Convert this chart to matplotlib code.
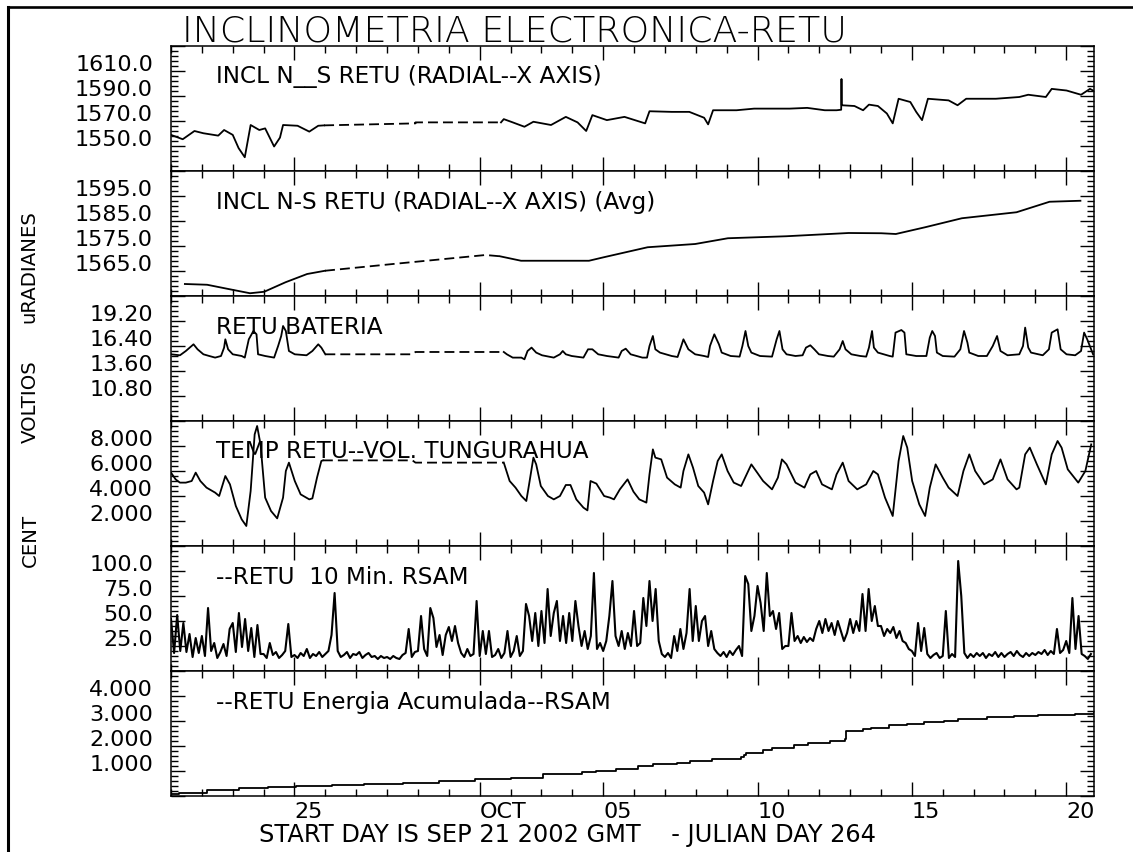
# %%

# RETU STATION - INCLINOMETRY, BATTERY, TEMPERATURE AND RSAM (SEP 21 - OCT 20 2002)

import numpy as np
import matplotlib

matplotlib.use("Agg")
import matplotlib.pyplot as plt
from matplotlib.lines import Line2D
from matplotlib import font_manager

# %%

# time is in days after 2002-09-21 00:00 GMT

# tilt N-S (radial), raw
incl_t1 = [0, 0.38, 0.76, 1.05, 1.53, 1.72, 2.0, 2.19, 2.39, 2.58, 2.86, 3.05,
           3.34, 3.53, 3.63, 4.1, 4.48, 4.77, 4.96]
incl_v1 = [1558.9, 1555.4, 1562.0, 1560.2, 1558.3, 1562.8, 1558.9, 1548.3, 1541.0,
           1566.8, 1562.8, 1564.1, 1549.6, 1556.7, 1566.8, 1566.2, 1561.5, 1566.2, 1566.5]
incl_gap_t = [4.96, 7.92, 7.92, 10.69]
incl_gap_v = [1566.5, 1568.1, 1568.9, 1568.9]
incl_t2 = [10.69, 10.78, 11.07, 11.45, 11.74, 12.31, 12.79, 13.17, 13.45, 13.65,
           14.12, 14.69, 15.36, 15.5, 16.22, 16.79, 17.27, 17.4, 17.56, 18.32,
           18.89, 19.66, 20.04, 20.61, 21.18, 21.56, 21.71, 21.72, 21.73, 22.14,
           22.42, 22.61, 22.9, 23.19, 23.38, 23.57, 23.95, 24.14, 24.33, 24.52,
           25.19, 25.48, 25.76, 26.72, 27.48, 27.77, 28.34, 28.53, 29.01, 29.48,
           29.77, 29.9]
incl_v2 = [1568.9, 1571.5, 1568.9, 1565.4, 1569.4, 1566.8, 1573.3, 1568.9, 1562.0, 1574.7,
           1570.7, 1573.3, 1568.1, 1577.8, 1577.3, 1577.3, 1572.6, 1567.3, 1578.6, 1578.6,
           1579.9, 1579.9, 1579.9, 1580.5, 1578.6, 1578.6, 1579.0, 1603.6, 1582.6, 1582.0,
           1578.6, 1583.1, 1582.0, 1576.0, 1568.1, 1587.8, 1585.2, 1577.3, 1570.7, 1587.8,
           1586.5, 1582.6, 1587.8, 1587.8, 1589.2, 1591.0, 1589.2, 1595.7, 1594.4, 1591.0,
           1595.7, 1594.0]

# tilt N-S (radial), averaged
avg_t1 = [0.45, 1.17, 1.86, 2.56, 3.02, 3.71, 4.41, 4.99]
avg_v1 = [1559.8, 1559.5, 1557.8, 1556.1, 1556.7, 1560.5, 1563.8, 1565.1]
avg_gap_t = [4.99, 7.19, 10.19, 10.65]
avg_gap_v = [1565.1, 1567.8, 1571.4, 1570.9]
avg_t2 = [10.65, 11.34, 12.6, 13.54, 14.02, 15.44, 16.98, 18.04, 19.93, 21.95,
          23.01, 23.48, 24.43, 25.62, 27.39, 28.46, 29.46]
avg_v2 = [1570.9, 1569.1, 1569.1, 1569.1, 1570.5, 1574.5, 1575.8, 1578.1, 1578.9, 1580.2,
          1580.1, 1579.8, 1582.5, 1586.1, 1588.5, 1592.7, 1593.1]

# battery voltage
bat_t1 = [0, 0.29, 0.48, 0.73, 0.86, 1.05, 1.24, 1.43, 1.62, 1.72, 1.76, 1.85, 2.0,
          2.29, 2.39, 2.52, 2.67, 2.77, 2.82, 3.05, 3.34, 3.47, 3.57, 3.63, 3.72,
          3.82, 4.01, 4.39, 4.58, 4.77, 4.87, 5.0]
bat_v1 = [15.47, 15.36, 15.84, 16.59, 16.03, 15.47, 15.28, 15.1, 15.28, 16.22, 17.15,
          16.03, 15.47, 15.28, 15.1, 17.15, 18.08, 17.71, 15.47, 15.28, 15.1, 16.4,
          17.52, 18.64, 18.08, 15.84, 15.47, 15.36, 15.84, 16.59, 16.22, 15.47]
bat_gap_t = [5.0, 7.82, 7.92, 10.78]
bat_gap_v = [15.47, 15.47, 15.73, 15.73]
bat_t2 = [10.78, 10.88, 11.07, 11.35, 11.45, 11.55, 11.68, 11.83, 12.02, 12.4,
          12.6, 12.69, 12.79, 12.98, 13.36, 13.51, 13.65, 13.84, 14.12, 14.5,
          14.6, 14.73, 14.89, 15.27, 15.42, 15.5, 15.61, 15.69, 15.84, 16.22,
          16.41, 16.53, 16.6, 16.76, 16.98, 17.27, 17.4, 17.46, 17.6, 17.75,
          17.84, 18.13, 18.42, 18.51, 18.61, 18.7, 18.8, 19.08, 19.47, 19.62,
          19.71, 19.81, 19.94, 20.23, 20.46, 20.57, 20.71, 20.84, 20.99, 21.28,
          21.47, 21.66, 21.76, 21.85, 22.04, 22.33, 22.52, 22.61, 22.71, 22.77,
          22.9, 23.28, 23.38, 23.47, 23.66, 23.76, 23.82, 24.14, 24.47, 24.58,
          24.66, 24.75, 24.81, 25.0, 25.38, 25.57, 25.69, 25.8, 25.86, 26.15,
          26.43, 26.62, 26.76, 26.87, 27.1, 27.48, 27.6, 27.67, 27.77, 27.86,
          28.24, 28.44, 28.53, 28.72, 28.82, 29.01, 29.29, 29.48, 29.58, 29.68,
          29.87]
bat_v2 = [15.73, 15.47, 15.1, 15.1, 14.91, 15.84, 16.22, 15.66, 15.36, 15.1,
          15.47, 15.84, 15.47, 15.28, 15.1, 16.03, 16.03, 15.47, 15.28, 15.1,
          15.84, 16.1, 15.47, 15.1, 15.1, 16.4, 17.52, 16.03, 15.66, 15.28,
          15.17, 16.4, 17.15, 16.03, 15.47, 15.28, 15.17, 16.4, 17.71, 16.59,
          15.66, 15.28, 15.21, 16.4, 18.08, 16.4, 15.66, 15.28, 15.21, 17.15,
          18.08, 16.03, 15.47, 15.28, 15.36, 16.22, 16.48, 16.03, 15.47, 15.28,
          15.21, 16.03, 16.96, 16.03, 15.47, 15.28, 15.21, 16.22, 18.08, 16.22,
          15.66, 15.28, 15.21, 17.9, 18.19, 17.9, 15.47, 15.28, 15.28, 17.34,
          18.08, 17.52, 15.66, 15.28, 15.21, 16.03, 18.08, 16.78, 15.66, 15.28,
          15.28, 16.4, 17.52, 15.84, 15.36, 15.47, 16.4, 18.46, 16.22, 15.66,
          15.36, 16.03, 17.9, 18.27, 16.03, 15.47, 15.36, 15.84, 17.9, 17.15,
          15.47]

# temperature
temp_t1 = [0, 0.15, 0.29, 0.48, 0.67, 0.8, 0.95, 1.15, 1.43, 1.56, 1.76, 1.91, 2.1,
           2.29, 2.44, 2.58, 2.71, 2.79, 2.9, 3.05, 3.24, 3.44, 3.63, 3.72, 3.82,
           4.01, 4.2, 4.48, 4.58, 4.73, 4.87, 4.92]
temp_v1 = [5.87, 5.33, 5.07, 5.07, 5.2, 5.87, 5.2, 4.67, 4.27, 4.0, 5.6, 4.93, 3.2,
           2.13, 1.6, 4.4, 8.93, 9.6, 8.13, 3.87, 2.8, 2.21, 3.87, 6.0, 6.67, 5.2,
           4.13, 3.73, 3.81, 5.47, 6.8, 6.85]
temp_gap_t = [4.92, 7.82, 7.92, 10.78]
temp_gap_v = [6.85, 6.85, 6.67, 6.67]
temp_t2 = [10.78, 10.97, 11.16, 11.35, 11.51, 11.6, 11.74, 11.83, 11.98, 12.21,
           12.4, 12.6, 12.79, 12.94, 13.13, 13.36, 13.49, 13.59, 13.78, 14.03,
           14.22, 14.35, 14.54, 14.79, 14.98, 15.17, 15.4, 15.5, 15.61, 15.69,
           15.88, 16.07, 16.32, 16.51, 16.6, 16.76, 16.91, 17.08, 17.27, 17.4,
           17.56, 17.71, 17.84, 18.03, 18.23, 18.47, 18.8, 18.99, 19.18, 19.47,
           19.66, 19.79, 19.94, 20.23, 20.52, 20.71, 20.9, 21.09, 21.41, 21.56,
           21.76, 21.95, 22.23, 22.52, 22.75, 22.9, 23.13, 23.38, 23.57, 23.72,
           23.85, 24.01, 24.24, 24.43, 24.58, 24.77, 25.0, 25.19, 25.48, 25.67,
           25.86, 26.05, 26.34, 26.62, 26.87, 27.1, 27.39, 27.48, 27.67, 27.82,
           28.05, 28.34, 28.53, 28.72, 28.85, 29.05, 29.39, 29.62, 29.81]
temp_v2 = [6.67, 5.2, 4.67, 4.0, 3.6, 4.93, 7.07, 6.53, 4.8, 4.0,
           3.73, 4.0, 4.88, 4.88, 3.73, 3.07, 2.85, 5.2, 4.99, 4.0,
           3.87, 3.73, 4.53, 5.33, 4.35, 3.73, 3.47, 5.73, 7.73, 7.07,
           6.93, 5.47, 4.93, 4.67, 6.0, 7.33, 6.27, 4.8, 4.27, 3.33,
           5.2, 6.8, 7.33, 6.0, 5.07, 4.8, 6.53, 5.87, 5.2, 4.53,
           5.47, 6.93, 6.53, 5.07, 4.67, 5.73, 6.0, 4.93, 4.53, 5.73,
           6.67, 5.2, 4.53, 4.93, 6.0, 5.73, 3.87, 2.4, 6.8, 8.8,
           7.87, 5.2, 3.33, 2.4, 4.67, 6.53, 5.47, 4.67, 4.0, 6.0,
           7.33, 6.0, 4.93, 5.33, 6.93, 5.33, 4.53, 4.67, 7.33, 7.87,
           6.53, 4.93, 7.33, 8.4, 7.87, 6.13, 5.07, 6.0, 8.13]

# 10 min RSAM, read every 0.1 day
rsam_dt = 0.1
rsam = [52, 18, 56, 20, 48, 19, 37, 14, 33, 18,
        35, 15, 63, 20, 28, 13, 19, 27, 15, 42,
        48, 19, 58, 24, 52, 20, 43, 14, 46, 17,
        17, 13, 28, 16, 19, 13, 16, 20, 47, 14,
        16, 13, 18, 15, 22, 13, 17, 15, 19, 14,
        17, 20, 36, 78, 20, 14, 16, 19, 13, 17,
        16, 19, 13, 16, 18, 14, 15, 12, 15, 13,
        14, 12, 15, 13, 12, 16, 18, 42, 14, 19,
        20, 55, 22, 15, 63, 53, 24, 36, 16, 36,
        44, 30, 45, 28, 18, 14, 22, 15, 17, 70,
        15, 40, 17, 40, 14, 16, 22, 13, 18, 40,
        14, 20, 35, 15, 20, 67, 55, 30, 58, 25,
        60, 28, 82, 35, 58, 70, 30, 55, 28, 58,
        30, 70, 45, 25, 40, 22, 35, 98, 22, 28,
        20, 30, 55, 90, 35, 25, 40, 22, 38, 25,
        60, 25, 28, 73, 45, 90, 50, 82, 30, 17,
        14, 18, 13, 35, 20, 42, 22, 38, 82, 30,
        65, 30, 50, 55, 25, 40, 22, 18, 15, 19,
        14, 20, 16, 21, 25, 15, 95, 87, 40, 55,
        85, 68, 40, 98, 55, 60, 42, 58, 22, 25,
        25, 58, 30, 35, 28, 34, 29, 33, 30, 42,
        50, 38, 52, 40, 48, 36, 50, 40, 30, 38,
        52, 38, 50, 40, 77, 40, 82, 50, 65, 45,
        45, 35, 42, 38, 44, 33, 40, 30, 28, 22,
        20, 15, 48, 20, 43, 17, 13, 16, 18, 13,
        15, 60, 13, 17, 14, 110, 75, 18, 13, 17,
        14, 18, 15, 18, 13, 17, 15, 19, 14, 18,
        14, 17, 19, 15, 20, 16, 14, 18, 15, 18,
        16, 19, 17, 21, 16, 20, 17, 42, 18, 21,
        30, 18, 73, 22, 55, 17, 15, 12, 17]

# accumulated RSAM energy
cum_t = [0.0, 0.25, 1.17, 2.21, 3.13, 4.06, 5.22, 6.26, 7.53, 8.69,
         9.84, 11.0, 12.04, 12.6, 13.3, 13.78, 14.43, 15.14, 15.62, 16.38,
         16.8, 17.51, 18.46, 18.55, 18.63, 19.17, 19.46, 20.17, 20.64, 21.36,
         21.83, 21.86, 22.42, 22.66, 23.25, 23.84, 24.4, 25.03, 25.5, 26.44,
         27.3, 28.1, 29.28, 29.9]
cum_v = [0.07, 0.13, 0.23, 0.31, 0.37, 0.4, 0.44, 0.47, 0.53, 0.6,
         0.67, 0.73, 0.87, 0.89, 0.97, 1.02, 1.09, 1.2, 1.27, 1.33,
         1.4, 1.47, 1.56, 1.65, 1.71, 1.85, 1.91, 2.04, 2.13, 2.2,
         2.27, 2.6, 2.68, 2.73, 2.83, 2.89, 2.95, 3.0, 3.07, 3.16,
         3.2, 3.24, 3.27, 3.33]

# x axis: Sep 25, Oct 1, Oct 5, 10, 15, 20
day_ticks = [4, 10, 14, 19, 24, 29]
day_labels = ["25", "OCT", "05", "10", "15", "20"]

# %%

names = {f.name for f in font_manager.fontManager.ttflist}
plt.rcParams["font.family"] = "DejaVu Sans"

if "Liberation Sans Narrow" in names:
    title_font = {"family": "Liberation Sans Narrow", "size": 31}
else:
    title_font = {"family": "DejaVu Sans", "size": 26.2, "weight": "light"}

W, H = 1133, 852
fig, axes = plt.subplots(6, 1, figsize=(W / 100, H / 100), dpi=100, sharex=True)
fig.subplots_adjust(left=171 / W, right=1094 / W, top=1 - 46 / H, bottom=1 - 796 / H, hspace=0)

panels = [
    dict(
        title="INCL N__S RETU (RADIAL--X AXIS)",
        lo=1530, step=20, fmt="%.1f",
        parts=[(incl_t1, incl_v1), (incl_t2, incl_v2)], gap=(incl_gap_t, incl_gap_v),
    ),
    dict(
        title="INCL N-S RETU (RADIAL--X AXIS) (Avg)",
        lo=1555, step=10, fmt="%.1f",
        parts=[(avg_t1, avg_v1), (avg_t2, avg_v2)], gap=(avg_gap_t, avg_gap_v),
    ),
    dict(
        title="RETU BATERIA",
        lo=8.0, step=2.8, fmt="%.2f",
        parts=[(bat_t1, bat_v1), (bat_t2, bat_v2)], gap=(bat_gap_t, bat_gap_v),
    ),
    dict(
        title="TEMP RETU--VOL. TUNGURAHUA",
        lo=0, step=2, fmt="%.3f",
        parts=[(temp_t1, temp_v1), (temp_t2, temp_v2)], gap=(temp_gap_t, temp_gap_v),
    ),
    dict(
        title="--RETU  10 Min. RSAM",
        lo=0, step=25, fmt="%.1f",
        parts=[], gap=None,
    ),
    dict(
        title="--RETU Energia Acumulada--RSAM",
        lo=0, step=1, fmt="%.3f",
        parts=[], gap=None,
    ),
]

for ax, p in zip(axes, panels):
    for t, v in p["parts"]:
        ax.plot(t, v, color="black", lw=1.3)
    if p["gap"] is not None:
        ax.plot(p["gap"][0], p["gap"][1], color="black", lw=1.3, ls=(0, (5.5, 2.8)))

    hi = p["lo"] + 5 * p["step"]
    ax.set_ylim(p["lo"], hi)
    major = [p["lo"] + k * p["step"] for k in range(6)]
    labels = [""] + [p["fmt"] % m for m in major[1:5]] + [""]
    ax.set_yticks(major, labels=labels, va="baseline")
    ax.set_yticks([p["lo"] + k * p["step"] / 5 for k in range(26)], minor=True)

    ax.text(0.049, 0.70, p["title"], transform=ax.transAxes, fontsize=16.7,
            ha="left", va="baseline")

    ax.tick_params(axis="both", which="both", direction="in", top=True, right=True,
                   width=1.0, colors="black")
    ax.tick_params(axis="both", which="major", length=10)
    ax.tick_params(axis="both", which="minor", length=5)
    ax.tick_params(axis="y", which="major", pad=13, labelsize=16)
    for s in ax.spines.values():
        s.set_linewidth(1.1)

# RSAM, one point every 0.1 day
axes[4].plot(np.arange(len(rsam)) * rsam_dt, rsam, color="black", lw=1.5)

# accumulated energy as a staircase
axes[5].plot(cum_t, cum_v, color="black", lw=1.3, drawstyle="steps-post")

axes[5].set_xlim(0, 29.9)
axes[5].set_xticks(day_ticks, labels=day_labels, ha="left")
axes[5].set_xticks(range(0, 30), minor=True)
axes[5].tick_params(axis="x", which="major", pad=4, labelsize=16)

# titles and axis captions
fig.text(514.5 / W, 1 - 42 / H, "INCLINOMETRIA ELECTRONICA-RETU", ha="center",
         va="baseline", fontdict=title_font)
fig.text(567 / W, 10 / H, "START DAY IS SEP 21 2002 GMT    - JULIAN DAY 264",
         ha="center", va="baseline", fontsize=17.4)
fig.text(29 / W, 1 - 267 / H, "uRADIANES", rotation=90, ha="center", va="center", fontsize=14.2)
fig.text(30 / W, 1 - 402 / H, "VOLTIOS", rotation=90, ha="center", va="center", fontsize=14.2)
fig.text(30 / W, 1 - 540 / H, "CENT", rotation=90, ha="center", va="center", fontsize=14.2)

# page frame (top and left edge)
fig.add_artist(Line2D([8 / W, 1.0], [1 - 7 / H, 1 - 7 / H], color="black", lw=1.9,
                      transform=fig.transFigure))
fig.add_artist(Line2D([8 / W, 8 / W], [0.0, 1 - 7 / H], color="black", lw=2.2,
                      transform=fig.transFigure))

fig.savefig("out.png", dpi=100, facecolor="white")
